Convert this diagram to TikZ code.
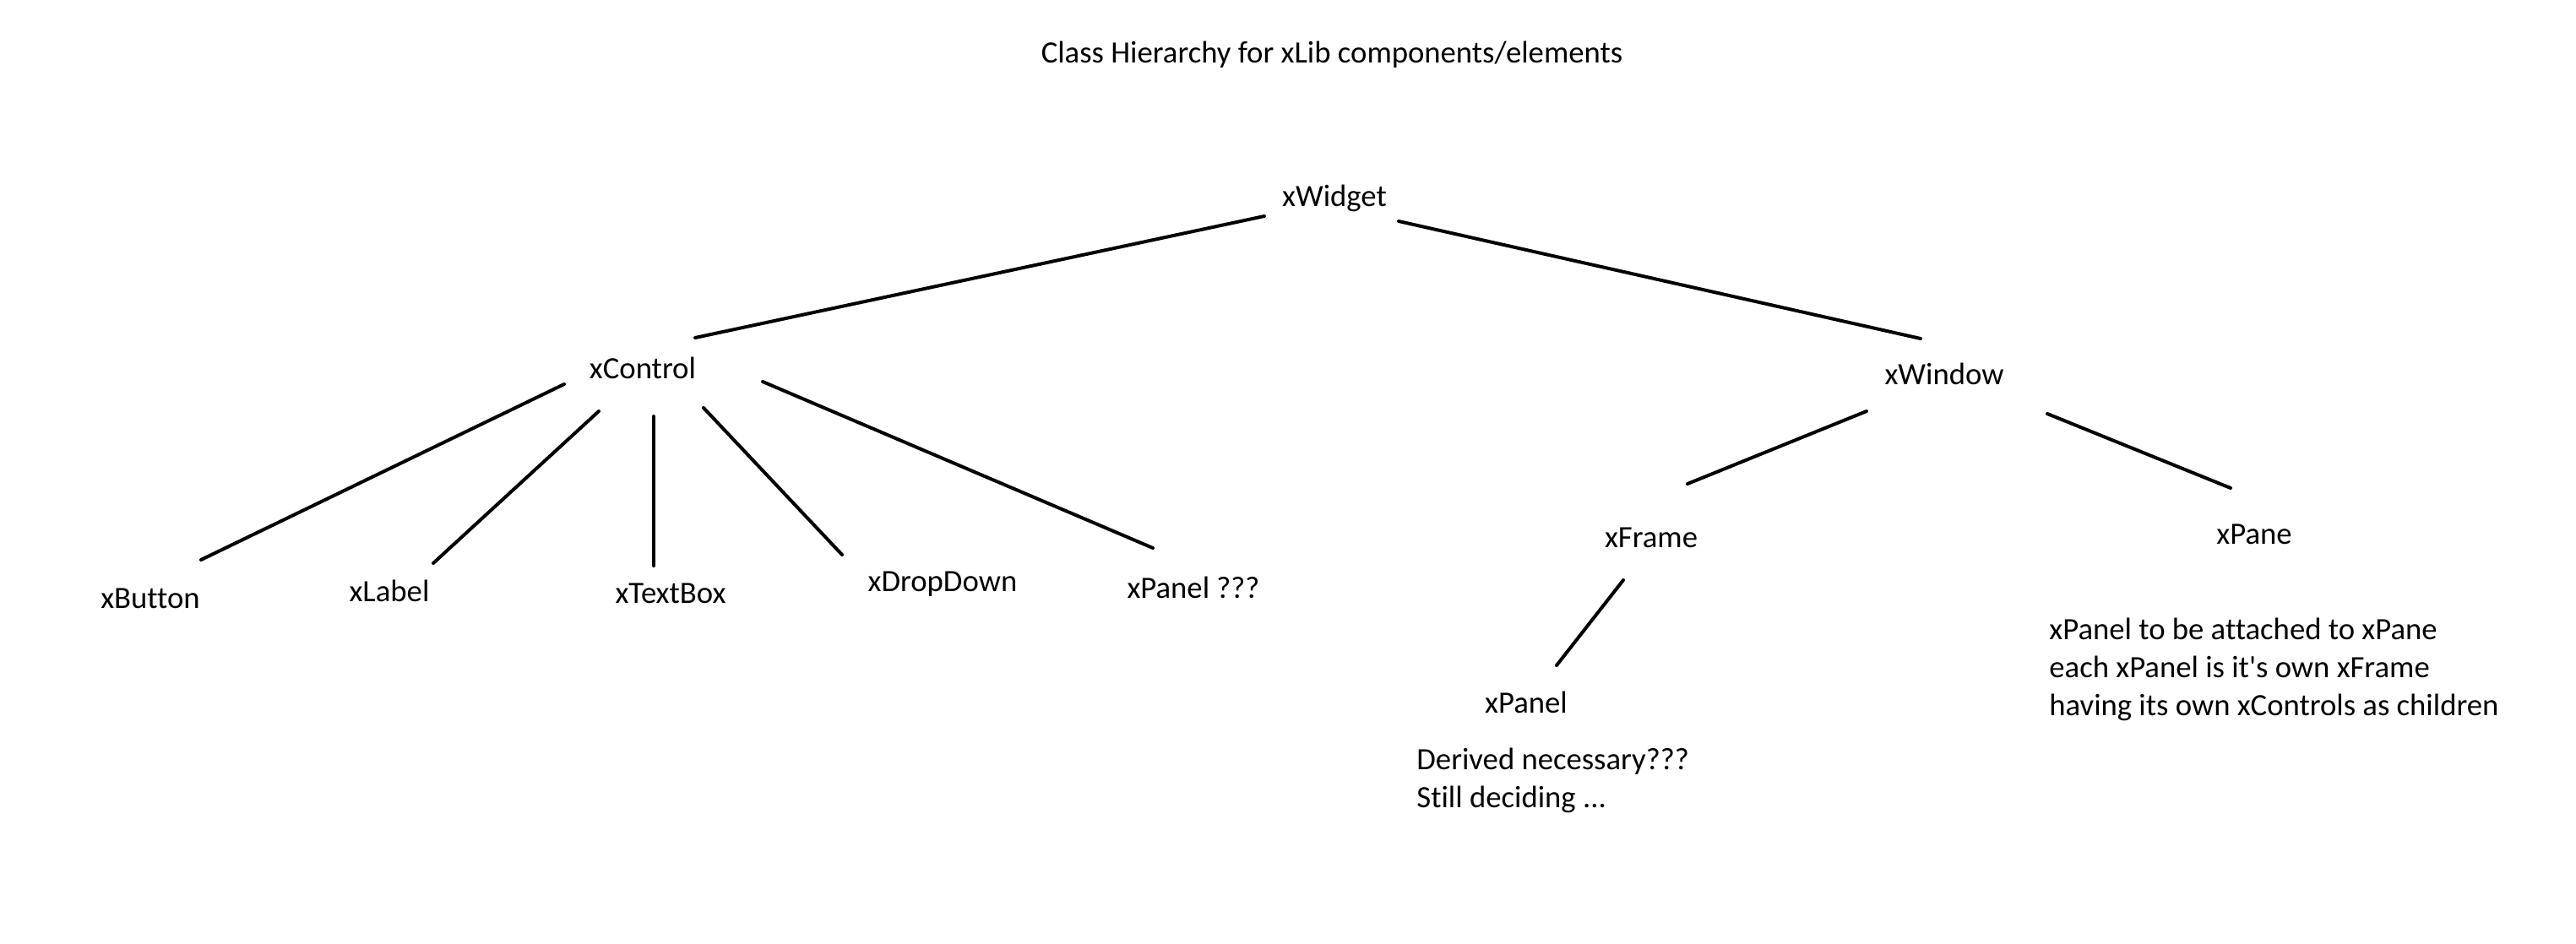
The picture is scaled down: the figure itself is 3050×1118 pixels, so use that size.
\documentclass[tikz,border=0pt]{standalone}
\usepackage{fontspec}
\setmainfont{Carlito}[Ligatures={NoCommon}]
\usetikzlibrary{calc}
\begin{document}
\begin{tikzpicture}[x=0.5pt,y=-0.5pt,
  lbl/.style={inner sep=0pt,anchor=base,font=\fontsize{18.35}{22.3}\selectfont},
  note/.style={inner sep=0pt,anchor=base west,align=left,font=\fontsize{18.35}{22.3}\selectfont},
  edge/.style={line width=2pt,line cap=round}]
\useasboundingbox (0,0) rectangle (3050,1118);
\node[lbl] (title) at (1577,75) {Class Hierarchy for xLib components/elements};
\node[lbl] (xw) at (1580,245) {xWidget};
\node[lbl] (xc) at (761,448) {xControl};
\node[lbl] (xwin) at (2302,455) {xWindow};
\node[lbl] (xb) at (178,720) {xButton};
\node[lbl] (xl) at (461,712) {xLabel};
\node[lbl] (xt) at (794,714) {xTextBox};
\node[lbl] (xd) at (1116,700) {xDropDown};
\node[lbl] (xpq) at (1413,708) {xPanel ???};
\node[lbl] (xf) at (1955,648) {xFrame};
\node[lbl] (xpane) at (2669,644) {xPane};
\node[lbl] (xp) at (1807,844) {xPanel};
\node[note] (nd) at (1677,956) {Derived necessary???\\Still deciding ...};
\node[note] (np) at (2426,847) {xPanel to be attached to xPane\\each xPanel is it\textquotesingle s own xFrame\\having its own xControls as children};
\draw[edge] ($(xc.base)+(62,-48)$) -- ($(xw.base)+(-83,11)$);
\draw[edge] ($(xw.base)+(76,17)$) -- ($(xwin.base)+(-28,-54)$);
\draw[edge] ($(xwin.base)+(-92,32)$) -- ($(xf.base)+(43,-75)$);
\draw[edge] ($(xwin.base)+(122,35)$) -- ($(xpane.base)+(-28,-66)$);
\draw[edge] ($(xf.base)+(-33,39)$) -- ($(xp.base)+(36,-56)$);
\draw[edge] ($(xc.base)+(-93,7)$) -- ($(xb.base)+(60,-57)$);
\draw[edge] ($(xc.base)+(-52,39)$) -- ($(xl.base)+(52,-45)$);
\draw[edge] ($(xc.base)+(13,45)$) -- ($(xt.base)+(-20,-44)$);
\draw[edge] ($(xc.base)+(72,35)$) -- ($(xd.base)+(-119,-43)$);
\draw[edge] ($(xc.base)+(142,4)$) -- ($(xpq.base)+(-48,-59)$);
\end{tikzpicture}
\end{document}
